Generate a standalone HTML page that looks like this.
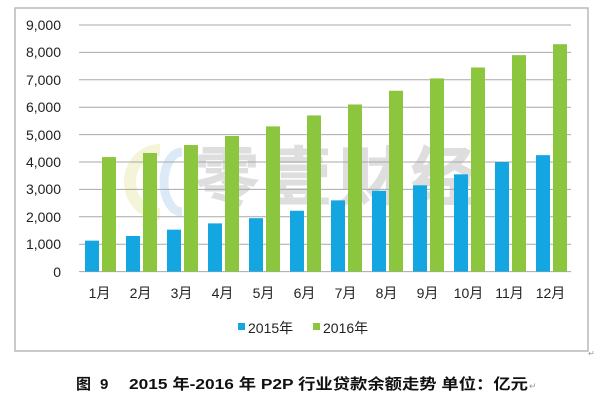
<!DOCTYPE html>
<html><head><meta charset="utf-8"><style>
html,body{margin:0;padding:0;background:#fff;width:602px;height:402px;overflow:hidden}
</style></head><body>
<svg width="602" height="402" xmlns="http://www.w3.org/2000/svg" font-family="Liberation Sans, 'Noto Sans CJK SC', sans-serif">
<rect x="15" y="8" width="573" height="343" fill="#fff" stroke="#b8b8b8" stroke-width="1.5"/>
<path d="M160 150 a30 32 0 1 0 0 64" fill="none" stroke="#f4f4d8" stroke-width="12"/>
<path d="M182 152 a18 30 0 0 0 0 60" fill="none" stroke="#dceaf8" stroke-width="9"/>
<text x="335" y="200" font-size="64" font-weight="bold" fill="#dedede" text-anchor="middle" font-family="'WenQuanYi Zen Hei', 'Noto Sans CJK SC', sans-serif" textLength="280" stroke="#dedede" stroke-width="1">零壹财经</text>
<g stroke="#a8a8a8" stroke-width="1">
<line x1="79" x2="571" y1="25" y2="25"/><line x1="79" x2="571" y1="52.4" y2="52.4"/>
<line x1="79" x2="571" y1="79.8" y2="79.8"/><line x1="79" x2="571" y1="107.2" y2="107.2"/>
<line x1="79" x2="571" y1="134.6" y2="134.6"/><line x1="79" x2="571" y1="162" y2="162"/>
<line x1="79" x2="571" y1="189.4" y2="189.4"/><line x1="79" x2="571" y1="216.8" y2="216.8"/>
<line x1="79" x2="571" y1="244.2" y2="244.2"/><line x1="79" x2="571" y1="271.6" y2="271.6"/>
</g>
<g font-size="14" fill="#222" text-anchor="end">
<text x="61" y="30">9,000</text><text x="61" y="57">8,000</text><text x="61" y="85">7,000</text>
<text x="61" y="112">6,000</text><text x="61" y="140">5,000</text><text x="61" y="167">4,000</text>
<text x="61" y="194">3,000</text><text x="61" y="222">2,000</text><text x="61" y="249">1,000</text>
<text x="61" y="277">0</text>
</g>
<g id="bars"></g>
<g font-size="14" fill="#222" text-anchor="middle" id="labels"></g>
<rect x="238" y="323" width="7" height="7" fill="#13a6e0"/>
<text x="248" y="333" font-size="14" fill="#222">2015年</text>
<rect x="313" y="323" width="7" height="7" fill="#8cc63f"/>
<text x="323" y="333" font-size="14" fill="#222">2016年</text>
<g font-size="15" font-weight="bold" fill="#111">
<text x="76" y="389">图</text>
<text x="100" y="389">9</text>
<text x="129" y="389" textLength="399" lengthAdjust="spacingAndGlyphs">2015 年-2016 年 P2P 行业贷款余额走势 单位：亿元</text>
</g>
<text x="529" y="389" font-size="9" fill="#999">↵</text>
<text x="588" y="356" font-size="8" fill="#999">↵</text>
</svg>
<script>
var a=[1130,1300,1530,1760,1950,2220,2600,2950,3150,3550,4000,4250];
var b=[4180,4330,4620,4950,5300,5700,6100,6600,7050,7450,7900,8300];
var ns="http://www.w3.org/2000/svg",g=document.getElementById("bars"),L=document.getElementById("labels");
var y0=271.6,k=27.4/1000,w=41;
for(var i=0;i<12;i++){var x=79+i*w;
[[a[i],x+6,"#13a6e0"],[b[i],x+23,"#8cc63f"]].forEach(function(d){var r=document.createElementNS(ns,"rect");var h=d[0]*k;r.setAttribute("x",d[1]);r.setAttribute("y",y0-h);r.setAttribute("width",14);r.setAttribute("height",h);r.setAttribute("fill",d[2]);g.appendChild(r);});
var t=document.createElementNS(ns,"text");t.setAttribute("x",x+w/2);t.setAttribute("y",298);t.textContent=(i+1)+"月";L.appendChild(t);}
</script>
</body></html>
